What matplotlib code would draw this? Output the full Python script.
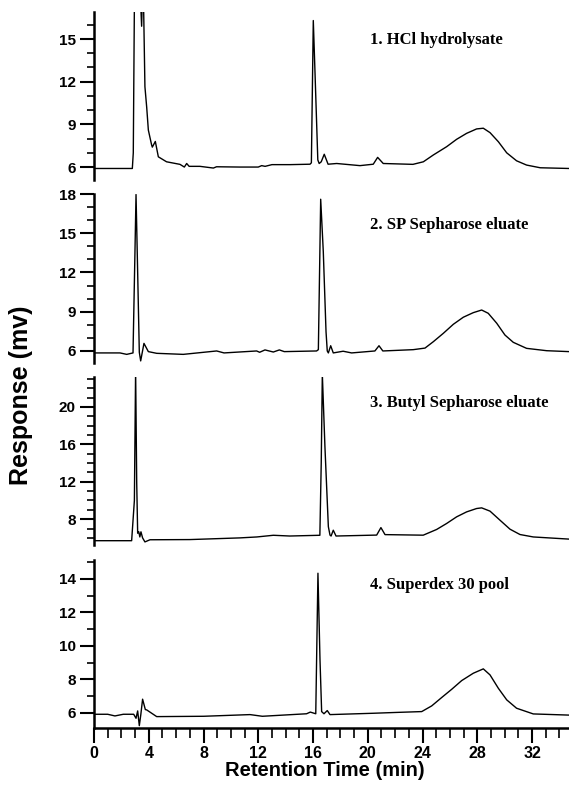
import matplotlib
matplotlib.use('Agg')
import matplotlib.pyplot as plt
from matplotlib.ticker import MultipleLocator

# Chromatogram traces (time in min, response in mv)
t1 = [0, 2.80, 2.87, 2.97, 3.30, 3.48, 3.58, 3.62, 3.72, 3.85, 3.97, 4.21, 4.26, 4.48, 4.70,
      5.30, 6.28, 6.60, 6.77, 6.95, 7.74, 8.72, 8.95, 10.66, 12.0, 12.25, 12.5, 13.0, 14.32,
      15.78, 15.88, 16.02, 16.15, 16.35, 16.45, 16.6, 16.82, 17.1, 17.73, 19.43, 20.4, 20.72,
      21.13, 23.3, 24.06, 24.79, 25.76, 26.49, 27.22, 27.95, 28.44, 28.93, 29.54, 30.15,
      30.87, 31.6, 32.6, 34.7]
r1 = [5.9, 5.9, 7.0, 20, 20, 15.9, 20, 17.5, 11.65, 10.2, 8.6, 7.55, 7.4, 7.8, 6.72,
      6.37, 6.19, 6.0, 6.25, 6.05, 6.05, 5.93, 6.02, 6.0, 6.0, 6.1, 6.05, 6.17, 6.17,
      6.2, 6.3, 16.3, 12.5, 6.5, 6.25, 6.37, 6.9, 6.2, 6.25, 6.1, 6.2, 6.68,
      6.25, 6.19, 6.37, 6.85, 7.43, 7.95, 8.37, 8.68, 8.73, 8.42, 7.78, 7.0,
      6.44, 6.14, 5.95, 5.9]

t2 = [0, 1.9, 2.39, 2.85, 3.0, 3.07, 3.15, 3.31, 3.41, 3.65, 3.97, 4.58, 6.52, 8.96, 9.5,
      11.88, 12.1, 12.49, 13.1, 13.54, 13.9, 16.26, 16.39, 16.56, 16.75, 16.95, 17.04, 17.12,
      17.29, 17.48, 18.2, 18.82, 20.52, 20.82, 21.1, 23.32, 24.18, 24.79, 25.52, 26.25, 26.98,
      27.71, 28.32, 28.8, 29.42, 30.02, 30.63, 31.6, 33.07, 34.7]
r2 = [5.85, 5.85, 5.74, 5.85, 14.0, 17.96, 14.0, 5.9, 5.24, 6.58, 5.95, 5.82, 5.74, 6.0, 5.85,
      6.0, 5.9, 6.08, 5.92, 6.08, 5.95, 6.0, 6.1, 17.6, 13.6, 7.47, 6.0, 5.85,
      6.4, 5.85, 5.98, 5.85, 6.0, 6.4, 6.0, 6.1, 6.22, 6.71, 7.35, 8.04, 8.58,
      8.93, 9.13, 8.88, 8.12, 7.22, 6.66, 6.2, 6.02, 5.95]

t3 = [0, 2.75, 2.95, 3.04, 3.12, 3.19, 3.27, 3.35, 3.43, 3.55, 3.72, 4.09, 7.0, 10.66, 11.9,
      13.1, 14.3, 16.5, 16.6, 16.68, 16.87, 17.12, 17.24, 17.32, 17.48, 17.68, 20.65, 20.96,
      21.26, 24.05, 25.03, 25.76, 26.49, 27.22, 27.95, 28.32, 28.93, 29.66, 30.39, 31.12,
      32.09, 34.7]
r3 = [5.7, 5.7, 10.0, 24.0, 11.9, 6.5, 6.65, 6.1, 6.65, 6.0, 5.57, 5.8, 5.82, 6.0, 6.1,
      6.28, 6.2, 6.28, 14.0, 23.5, 15.75, 7.2, 6.3, 6.2, 6.82, 6.2, 6.3, 7.1,
      6.35, 6.29, 6.9, 7.54, 8.25, 8.78, 9.14, 9.21, 8.86, 7.89, 6.93, 6.36,
      6.1, 5.87]

t4 = [0, 1.0, 1.53, 2.14, 2.9, 3.07, 3.19, 3.31, 3.42, 3.55, 3.75, 3.85, 4.58, 8.0, 11.4,
      12.3, 15.53, 15.8, 16.2, 16.36, 16.51, 16.63, 16.8, 17.04, 17.24, 20.4, 22.1, 23.94,
      24.67, 25.4, 26.13, 26.86, 27.71, 28.44, 28.93, 29.54, 30.15, 30.87, 32.09, 34.7]
r4 = [5.92, 5.92, 5.82, 5.92, 5.92, 5.68, 6.12, 5.24, 5.9, 6.82, 6.2, 6.18, 5.78, 5.8, 5.9,
      5.8, 5.95, 6.05, 5.95, 14.34, 9.16, 6.08, 5.95, 6.14, 5.9, 5.98, 6.03, 6.08,
      6.42, 6.92, 7.41, 7.93, 8.37, 8.63, 8.27, 7.47, 6.78, 6.28, 5.94, 5.87]

labels = ['1. HCl hydrolysate', '2. SP Sepharose eluate',
          '3. Butyl Sepharose eluate', '4. Superdex 30 pool']
ylims = [(5.09, 16.9), (5.08, 18.0), (5.24, 23.2), (5.10, 15.13)]
yticks = [[6, 9, 12, 15], [6, 9, 12, 15, 18], [8, 12, 16, 20], [6, 8, 10, 12, 14]]

traces = [(t1, r1), (t2, r2), (t3, r3), (t4, r4)]

W, H = 569, 787
fig = plt.figure(figsize=(W / 100, H / 100), dpi=100)

# panel extents in pixels (top, bottom)
boxes = [(12, 180), (194, 363), (377, 545), (560, 728)]
label_y = [0.835, 0.815, 0.843, 0.849]

for i, ((t, r), (top, bot)) in enumerate(zip(traces, boxes)):
    ax = fig.add_axes([94 / W, 1 - bot / H, 1 - 94 / W, (bot - top) / H])
    ax.plot(t, r, color='black', lw=1.0)
    ax.set_xlim(0, 34.7)
    ax.set_ylim(*ylims[i])
    ax.set_yticks(yticks[i])
    ax.yaxis.set_minor_locator(MultipleLocator(1))
    for s in ['top', 'right']:
        ax.spines[s].set_visible(False)
    ax.spines['left'].set_linewidth(1.8)
    ax.tick_params(axis='y', which='major', direction='out', length=10, width=1.5, pad=3)
    ax.tick_params(axis='y', which='minor', direction='out', length=5, width=1.2)
    for lab in ax.get_yticklabels():
        lab.set_fontfamily('Liberation Sans')
        lab.set_fontweight('bold')
        lab.set_fontsize(11)
    ax.text(20.15, label_y[i], labels[i], transform=ax.get_xaxis_transform(),
            ha='left', va='center', fontsize=12, fontweight='bold',
            family='Liberation Serif')
    if i < 3:
        ax.spines['bottom'].set_visible(False)
        ax.set_xticks([])
    else:
        ax.spines['bottom'].set_linewidth(1.8)
        ax.set_xticks(range(0, 33, 4))
        ax.xaxis.set_minor_locator(MultipleLocator(1))
        ax.tick_params(axis='x', which='major', direction='out', length=11, width=1.5, pad=2)
        ax.tick_params(axis='x', which='minor', direction='out', length=7, width=1.2)
        for lab in ax.get_xticklabels():
            lab.set_fontfamily('Liberation Sans')
            lab.set_fontweight('bold')
            lab.set_fontsize(11.5)

fig.text(21 / W, 1 - 395 / H, 'Response (mv)', rotation=90, ha='center', va='center',
         fontsize=18, fontweight='bold', family='Liberation Sans')
fig.text(325 / W, 1 - 771 / H, 'Retention Time (min)', ha='center', va='center',
         fontsize=14.5, fontweight='bold', family='Liberation Sans')

fig.savefig('out.png', dpi=100)
